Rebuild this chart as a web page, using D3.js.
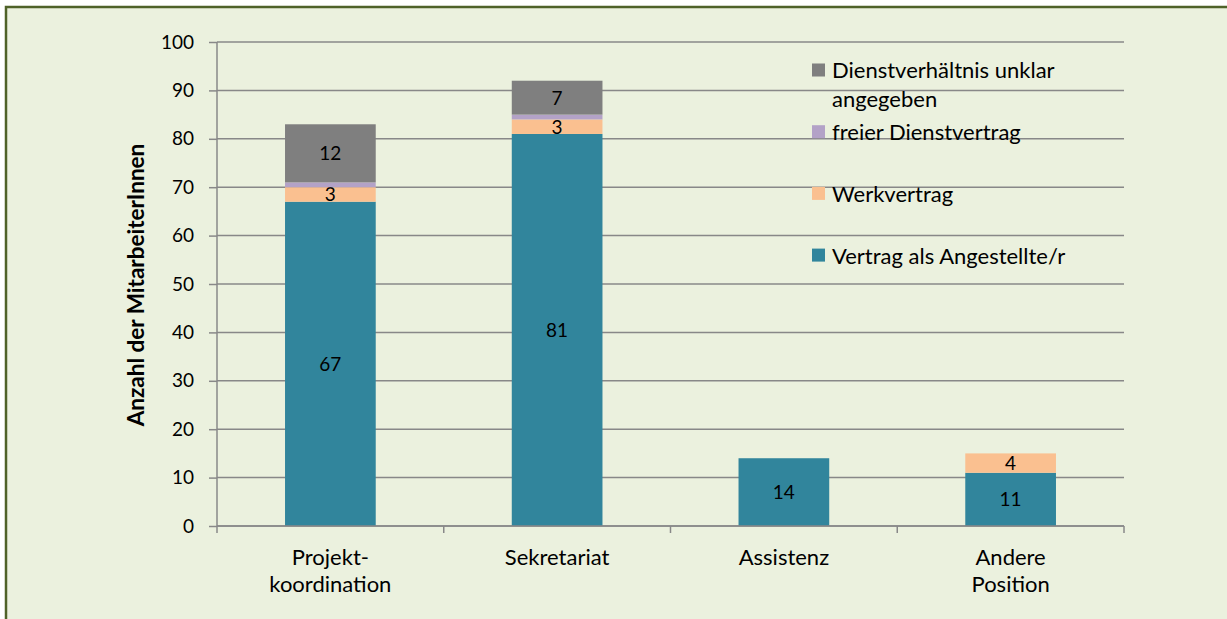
<!DOCTYPE html>
<html>
<head>
<meta charset="utf-8">
<script src="https://cdn.jsdelivr.net/npm/d3@7"></script>
<style>
  body { margin: 0; background: #fff; }
  text { font-family: "Lato", "Open Sans", sans-serif; fill: #000; }
</style>
</head>
<body>
<div id="chart"></div>
<script>
// data
var categories = ["Projekt-\nkoordination", "Sekretariat", "Assistenz", "Andere\nPosition"];
var seriesNames = ["Vertrag als Angestellte/r", "Werkvertrag", "freier Dienstvertrag", "Dienstverhältnis unklar\nangegeben"];
var angestellt = [67, 81, 14, 11];
var werkvertrag = [3, 3, 0, 4];
var freierDV = [1, 1, 0, 0];
var unklar = [12, 7, 0, 0];
var yTicks = [0, 10, 20, 30, 40, 50, 60, 70, 80, 90, 100];
var colors = ["#31859c", "#fac090", "#b3a2c7", "#7f7f7f"];

var W = 1227, H = 619;
var margin = {top: 42, right: 103, bottom: 93, left: 217},
    width = W - margin.left - margin.right,
    height = H - margin.top - margin.bottom;
var textSize = "22px", numSize = "19px";

var svgRoot = d3.select("#chart").append("svg")
    .attr("width", W).attr("height", H);

// background + frame
svgRoot.append("rect")
    .attr("x", 6).attr("y", 7).attr("width", W + 20).attr("height", H + 20)
    .attr("fill", "#ebf1de").attr("stroke", "#4f6228").attr("stroke-width", 2.5);

var svg = svgRoot.append("g")
    .attr("transform", "translate(" + margin.left + "," + margin.top + ")");

var x = d3.scaleBand().domain(categories).range([0, width]).paddingInner(0.6).paddingOuter(0.3);
var y = d3.scaleLinear().domain([0, 100]).range([height, 0]);

// gridlines
svg.selectAll(".grid").data(yTicks).enter().append("line")
    .attr("x1", 0).attr("x2", width)
    .attr("y1", function(d) { return y(d); }).attr("y2", function(d) { return y(d); })
    .attr("stroke", "#888").attr("stroke-width", 1.5);

// stack
var table = categories.map(function(c, i) {
  return {cat: c, s0: angestellt[i], s1: werkvertrag[i], s2: freierDV[i], s3: unklar[i]};
});
var stack = d3.stack().keys(["s0", "s1", "s2", "s3"])(table);

var layers = svg.selectAll(".layer").data(stack).enter().append("g")
    .attr("fill", function(d, i) { return colors[i]; });

layers.selectAll("rect").data(function(d) { return d; }).enter().append("rect")
    .attr("x", function(d) { return x(d.data.cat); })
    .attr("width", x.bandwidth())
    .attr("y", function(d) { return y(d[1]); })
    .attr("height", function(d) { return y(d[0]) - y(d[1]); });

// data labels (the 1-values have no label in the original)
layers.each(function(layer) {
  d3.select(this).selectAll("text").data(layer.filter(function(d) { return d[1] - d[0] > 1; }))
    .enter().append("text")
      .attr("x", function(d) { return x(d.data.cat) + x.bandwidth() / 2; })
      .attr("y", function(d) { return (y(d[0]) + y(d[1])) / 2; })
      .attr("dy", "0.36em")
      .attr("text-anchor", "middle")
      .style("font-size", numSize)
      .text(function(d) { return d[1] - d[0]; });
});

// y axis
var yAxis = svg.append("g")
    .call(d3.axisLeft(y).tickValues(yTicks).tickSize(8).tickPadding(15));
yAxis.select(".domain").attr("stroke", "#888").attr("stroke-width", 1.5).attr("d", "M0," + height + "V0");
yAxis.selectAll(".tick line").attr("stroke", "#888").attr("stroke-width", 1.5);
yAxis.selectAll(".tick text").style("font-size", numSize).style("font-family", "Lato");

// x axis
var xAxis = svg.append("g").attr("transform", "translate(0," + height + ")");
xAxis.append("line").attr("x1", 0).attr("x2", width).attr("stroke", "#888").attr("stroke-width", 1.5);
xAxis.selectAll(".xt").data(d3.range(categories.length + 1)).enter().append("line")
    .attr("x1", function(d) { return d * width / categories.length; })
    .attr("x2", function(d) { return d * width / categories.length; })
    .attr("y1", 0).attr("y2", 7)
    .attr("stroke", "#888").attr("stroke-width", 1.5);
xAxis.selectAll(".xl").data(categories).enter().append("text")
    .attr("text-anchor", "middle")
    .attr("x", function(d) { return x(d) + x.bandwidth() / 2; })
    .attr("y", 39)
    .style("font-size", textSize)
    .each(function(d) {
      var t = d3.select(this);
      d.split("\n").forEach(function(line, i) {
        t.append("tspan").attr("x", x(d) + x.bandwidth() / 2).attr("dy", i ? 27 : 0).text(line);
      });
    });

// y title
svgRoot.append("text")
    .attr("transform", "translate(144," + (margin.top + height / 2 + 1) + ") rotate(-90)")
    .attr("text-anchor", "middle")
    .style("font-size", "22.5px").style("font-weight", "bold")
    .text("Anzahl der MitarbeiterInnen");

// legend (reverse order)
var legend = svgRoot.append("g");
var legendItems = seriesNames.map(function(n, i) { return {name: n, color: colors[i]}; }).reverse();
legendItems.forEach(function(d, i) {
  var cy = 70.5 + i * 61.7;
  legend.append("rect").attr("x", 812).attr("y", cy - 7).attr("width", 13).attr("height", 13).attr("fill", d.color);
  var t = legend.append("text").attr("x", 832).attr("y", cy).style("font-size", textSize);
  d.name.split("\n").forEach(function(line, j) {
    t.append("tspan").attr("x", 832).attr("dy", j ? 29 : "0.36em").text(line);
  });
});
</script>
</body>
</html>
